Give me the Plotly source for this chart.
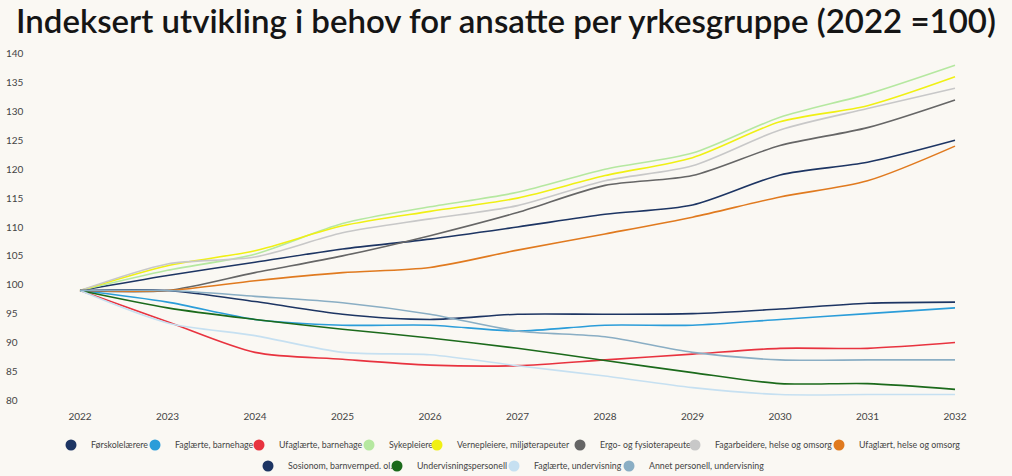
import plotly.graph_objects as go

years = [2022, 2023, 2024, 2025, 2026, 2027, 2028, 2029, 2030, 2031, 2032]

forskolelarere = [99, 101.6, 103.9, 106.2, 107.9, 110, 112.2, 113.8, 119, 121.2, 125]
faglarte_barnehage = [99, 97, 94, 93, 93, 92, 93, 93, 94, 95, 96]
ufaglarte_barnehage = [99, 93.6, 88.3, 87.1, 86.1, 86, 87, 88, 89, 89, 90]
sykepleiere = [99, 102.5, 105.3, 110.6, 113.5, 116, 120, 122.8, 129, 133, 138]
vernepleiere = [99, 103.3, 105.9, 110.2, 112.7, 115, 118.9, 122, 128.2, 131, 136]
ergo_fysio = [99, 99, 102.1, 105, 108.5, 112.5, 117.2, 118.9, 124.1, 127.2, 132]
fagarbeidere = [99, 103.6, 104.8, 109, 111.4, 113.7, 118, 120.6, 126.8, 130.5, 134]
ufaglart_helse = [99, 99, 100.7, 102.1, 103, 106, 108.8, 111.7, 115.2, 118, 124]
sosionom = [99, 99, 97.1, 94.9, 94, 94.9, 94.9, 95, 95.8, 96.8, 97]
undervisningspersonell = [99, 96, 94, 92.3, 90.8, 89, 86.9, 84.8, 82.9, 82.9, 81.9]
faglarte_undervisning = [99, 93.4, 91.2, 88.3, 87.9, 86, 84.2, 82.2, 81, 81, 81]
annet_personell = [99, 99, 98, 96.9, 94.9, 92, 91, 88.3, 87, 87, 87]

# name, values, colour, legend marker x (px), legend row
series = [
    ("Førskolelærere", forskolelarere, "#1d3563", 70, 0),
    ("Faglærte, barnehage", faglarte_barnehage, "#2b9dd9", 154, 0),
    ("Ufaglærte, barnehage", ufaglarte_barnehage, "#e8333f", 258, 0),
    ("Sykepleiere", sykepleiere, "#b5e8a0", 368, 0),
    ("Vernepleiere, miljøterapeuter", vernepleiere, "#f0f014", 436, 0),
    ("Ergo- og fysioterapeuter", ergo_fysio, "#666666", 579, 0),
    ("Fagarbeidere, helse og omsorg", fagarbeidere, "#c8c8c8", 694, 0),
    ("Ufaglært, helse og omsorg", ufaglart_helse, "#e07a1f", 838, 0),
    ("Sosionom, barnvernped. ol.", sosionom, "#1d3563", 267, 1),
    ("Undervisningspersonell", undervisningspersonell, "#1b6a1b", 396, 1),
    ("Faglærte, undervisning", faglarte_undervisning, "#c6e0f1", 513, 1),
    ("Annet personell, undervisning", annet_personell, "#8aaec4", 628, 1),
]

W, H = 1012, 476
L, R, T, B = 3, 10, 45, 67
row_y = [445, 466]

fig = go.Figure()

for name, vals, color, lx, row in series:
    fig.add_trace(go.Scatter(
        x=years, y=vals, name=name, mode="lines",
        line=dict(color=color, width=1.6, shape="spline", smoothing=0.8),
        showlegend=False,
    ))

# one small legend per entry so each can sit where the reference has it
legends = {}
for i, (name, vals, color, lx, row) in enumerate(series):
    key = "legend" if i == 0 else "legend%d" % (i + 1)
    fig.add_trace(go.Scatter(
        x=[None], y=[None], name=name, mode="markers",
        marker=dict(color=color, size=11), legend=key,
    ))
    legends[key] = dict(
        x=(lx - 19) / W, xref="container", xanchor="left",
        y=1 - row_y[row] / H, yref="container", yanchor="middle",
        orientation="h", itemwidth=30, bgcolor="rgba(0,0,0,0)",
        font=dict(family="Lato", size=8.8, color="#444444"),
    )

bg = "#faf8f3"
fig.update_layout(
    width=W, height=H,
    paper_bgcolor=bg, plot_bgcolor=bg,
    margin=dict(l=L, r=R, t=T, b=B),
    font=dict(family="Lato", color="#444444", size=10),
    title=dict(
        text="Indeksert utvikling i behov for ansatte per yrkesgruppe (2022 =100)",
        font=dict(family="Lato", size=33, color="#151515", weight=600),
        x=0.5, xanchor="center", y=0.956, yanchor="middle",
    ),
    xaxis=dict(
        range=[2021.12, 2032.537], tickvals=years, showgrid=False,
        zeroline=False, showline=False, tickfont=dict(size=10),
    ),
    yaxis=dict(
        range=[78.5, 141.5], tickvals=list(range(80, 145, 5)), showgrid=False,
        zeroline=False, showline=False, ticklabelposition="inside",
        tickfont=dict(size=10),
    ),
    **legends,
)

fig.write_html("out.html", config={"displayModeBar": False},
               post_script="document.body.style.margin='0';")
